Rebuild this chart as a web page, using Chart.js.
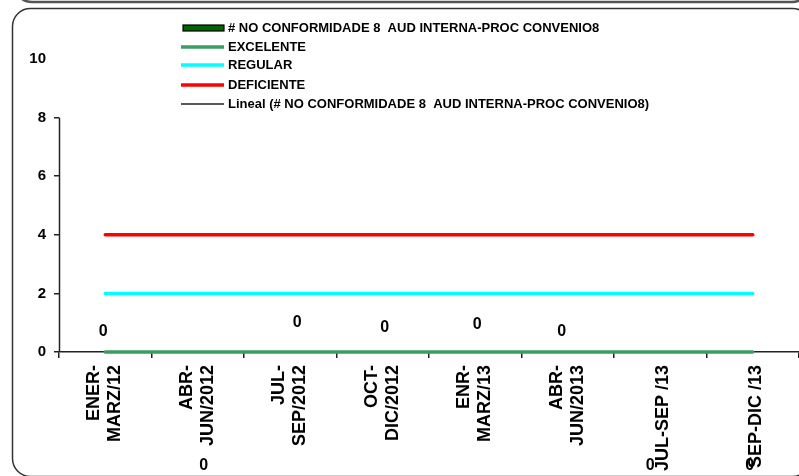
<!DOCTYPE html>
<html><head><meta charset="utf-8">
<script src="https://cdn.jsdelivr.net/npm/chart.js@4.4.0/dist/chart.umd.min.js"></script>
<style>html,body{margin:0;padding:0;background:#fff;overflow:hidden}#wrap{width:799px;height:476px;position:relative}</style>
</head><body><div id="wrap"><canvas id="c" width="799" height="476"></canvas></div>
<script>
const categories = [["ENER-","MARZ/12"],["ABR-","JUN/2012"],["JUL-","SEP/2012"],["OCT-","DIC/2012"],["ENR-","MARZ/13"],["ABR-","JUN/2013"],"JUL-SEP /13","SEP-DIC /13"];
const noConformidades = [0,0,0,0,0,0,0,0];
const excelente = [0,0,0,0,0,0,0,0];
const regular = [2,2,2,2,2,2,2,2];
const deficiente = [4,4,4,4,4,4,4,4];
const lineal = [0,0,0,0,0,0,0,0];
const yTicks = [0,2,4,6,8,10];
const seriesNames = ["# NO CONFORMIDADE 8  AUD INTERNA-PROC CONVENIO8","EXCELENTE","REGULAR","DEFICIENTE","Lineal (# NO CONFORMIDADE 8  AUD INTERNA-PROC CONVENIO8)"];
// label placement offsets (pixels) as Excel placed them
const labelDx = [-2,6,7,2,2,-6,-10,-3];
const labelDy = [-20,114,-29,-24,-27,-20,114,114];

const FONT = "'Liberation Sans', Arial, sans-serif";

const framePlugin = {
  id:'frame',
  beforeDraw(chart){
    const ctx = chart.ctx;
    ctx.save();
    ctx.fillStyle='#fff';
    ctx.fillRect(0,0,chart.width,chart.height);
    ctx.strokeStyle='#555';
    ctx.lineWidth=2.5;
    ctx.beginPath(); ctx.roundRect(14,-40,796,42,18); ctx.stroke();
    ctx.strokeStyle='#333';
    ctx.lineWidth=1.5;
    ctx.beginPath(); ctx.roundRect(12.5,8.5,798,468,18); ctx.stroke();
    ctx.restore();
  },
  beforeDatasetsDraw(chart){
    const ctx=chart.ctx, y=chart.scales.y, x=chart.scales.x, a=chart.chartArea;
    ctx.save();
    ctx.strokeStyle='#222'; ctx.lineWidth=1.5;
    ctx.beginPath();
    ctx.moveTo(Math.round(a.left)+0.5, y.getPixelForValue(8));
    ctx.lineTo(Math.round(a.left)+0.5, a.bottom);
    ctx.stroke();
    // category labels, rotated, reading bottom-to-top
    ctx.fillStyle='#000';
    ctx.font="bold 18px "+FONT;
    ctx.textAlign='right'; ctx.textBaseline='middle';
    const spacing=21;
    categories.forEach((lab,i)=>{
      const lines=Array.isArray(lab)?lab:[lab];
      const px=x.getPixelForTick(i);
      const shift = lines.length>1 ? -0.5 : 3;
      lines.forEach((t,j)=>{
        const lx = px + shift + (j-(lines.length-1)/2)*spacing;
        ctx.save();
        ctx.translate(lx, a.bottom+13);
        ctx.rotate(-Math.PI/2);
        ctx.fillText(t,0,0);
        ctx.restore();
      });
    });
    ctx.restore();
  },
  afterDatasetsDraw(chart){
    const ctx=chart.ctx;
    const meta=chart.getDatasetMeta(0);
    ctx.save();
    ctx.fillStyle='#000';
    ctx.font="bold 16px "+FONT;
    ctx.textAlign='center'; ctx.textBaseline='middle';
    meta.data.forEach((el,i)=>{
      ctx.fillText(String(noConformidades[i]), el.x+labelDx[i], el.y+labelDy[i]);
    });
    // legend
    const lx=181, lw=43, tx=228;
    const rows=[28,47,65,85,104];
    ctx.font="bold 13px "+FONT;
    ctx.textAlign='left';
    chart.data.datasets.forEach((ds,i)=>{
      const yy=rows[i];
      if(i===0){
        ctx.fillStyle=ds.backgroundColor;
        ctx.fillRect(lx+2,yy-3,lw-2,6);
        ctx.strokeStyle='#000'; ctx.lineWidth=1.2;
        ctx.strokeRect(lx+2,yy-3,lw-2,6);
      } else {
        ctx.strokeStyle=ds.borderColor; ctx.lineWidth=ds.borderWidth;
        ctx.beginPath(); ctx.moveTo(lx,yy); ctx.lineTo(lx+lw,yy); ctx.stroke();
      }
      ctx.fillStyle='#000';
      ctx.fillText(ds.label, tx, yy+0.5);
    });
    ctx.restore();
  }
};

new Chart(document.getElementById('c'),{
  type:'bar',
  data:{
    labels:categories,
    datasets:[
      {type:'bar',label:seriesNames[0],data:noConformidades,backgroundColor:'#006400',borderWidth:0,order:0},
      {type:'line',label:seriesNames[1],data:excelente,borderColor:'#3c9d64',borderWidth:3.5,pointRadius:0,tension:0,order:1,borderCapStyle:'round',clip:false},
      {type:'line',label:seriesNames[2],data:regular,borderColor:'#00ffff',borderWidth:3.5,pointRadius:0,tension:0,order:2,borderCapStyle:'round',clip:false},
      {type:'line',label:seriesNames[3],data:deficiente,borderColor:'#ff0000',borderWidth:3.5,pointRadius:0,tension:0,order:3,borderCapStyle:'round',clip:false},
      {type:'line',label:seriesNames[4],data:lineal,borderColor:'#222222',borderWidth:1.5,pointRadius:0,tension:0,order:4,clip:false}
    ]
  },
  options:{
    responsive:false, animation:false,
    layout:{padding:{top:59,left:0,right:0,bottom:0}},
    plugins:{legend:{display:false},tooltip:{enabled:false}},
    scales:{
      x:{
        offset:true,
        grid:{offset:true,drawOnChartArea:false,tickLength:6,color:'#222',lineWidth:1.5},
        border:{color:'#222',width:1.5},
        ticks:{display:false},
        afterFit(s){s.height=124;}
      },
      y:{
        min:0,max:10,
        afterBuildTicks(s){s.ticks=yTicks.map(v=>({value:v}));},
        grid:{drawOnChartArea:false,tickLength:5,lineWidth:1.5,color:(c)=>c.tick && c.tick.value===10?'rgba(0,0,0,0)':'#222'},
        border:{display:false},
        ticks:{padding:8,color:'#000',font:{family:FONT,weight:'bold',size:15}},
        afterFit(s){s.width=59;}
      }
    }
  },
  plugins:[framePlugin]
});
</script>
</body></html>
